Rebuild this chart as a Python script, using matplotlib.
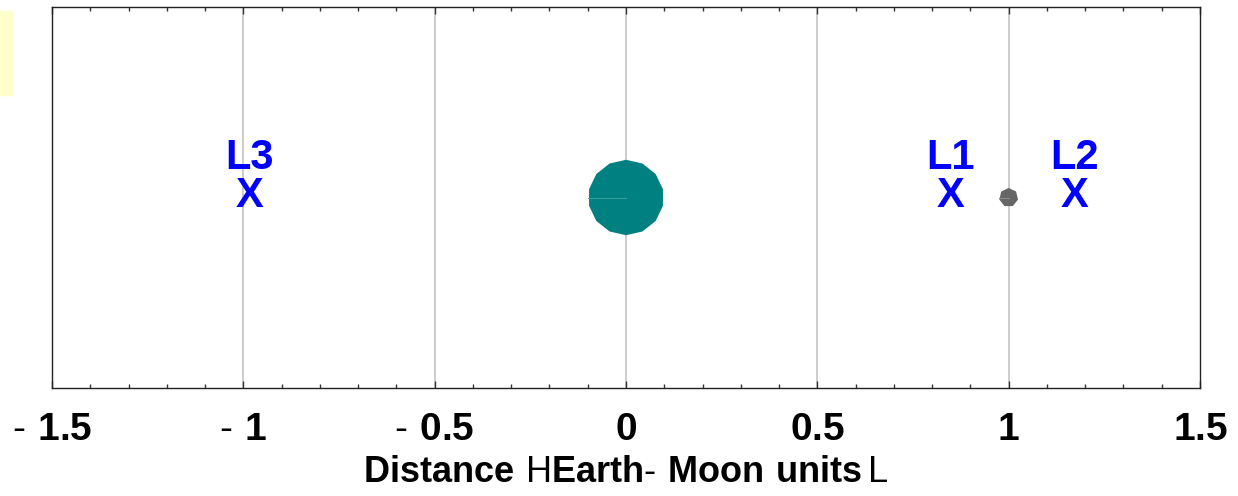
import matplotlib
matplotlib.use("Agg")
import matplotlib.pyplot as plt
from matplotlib import font_manager
from matplotlib.patches import RegularPolygon, Rectangle
from matplotlib.ticker import MultipleLocator

# data
major_ticks = [-1.5, -1.0, -0.5, 0.0, 0.5, 1.0, 1.5]
tick_values = ["1.5", "1", "0.5", "0", "0.5", "1", "1.5"]
tick_negative = [True, True, True, False, False, False, False]
grid_x = [-1.0, -0.5, 0.0, 0.5, 1.0]

point_names = ["L3", "L1", "L2"]
point_x = [-0.984, 0.848, 1.173]

body_names = ["Earth", "Moon"]
body_x = [0.0, 1.0]
body_radius = [0.099, 0.025]
body_colors = ["#008080", "#666666"]

installed = {f.name for f in font_manager.fontManager.ttflist}
narrow = "Liberation Sans Narrow" in installed
label_font = "Liberation Sans Narrow" if narrow else "Liberation Sans"
tick_size = 31 if narrow else 28
xlabel_size = 30 if narrow else 26

plt.rcParams["font.family"] = ["Liberation Sans", "DejaVu Sans"]
plt.rcParams["mathtext.fontset"] = "custom"
plt.rcParams["mathtext.rm"] = label_font
plt.rcParams["mathtext.bf"] = label_font + ":bold"

fig = plt.figure(figsize=(12.38, 4.96), dpi=100)
ax = fig.add_axes([52 / 1238, 108 / 496, 1148 / 1238, 381 / 496])

# the little yellow strip at the left edge
fig.patches.append(Rectangle((0, 1 - 95 / 496), 12 / 1238, 84 / 496,
                             transform=fig.transFigure, color="#ffffcc",
                             zorder=0))

for gx in grid_x:
    ax.axvline(gx, color="#c8c8c8", lw=1.3, zorder=0)

for name, x, r, c in zip(body_names, body_x, body_radius, body_colors):
    ax.add_patch(RegularPolygon((x, 0), numVertices=14 if r > 0.05 else 7,
                                radius=r, color=c, lw=0, zorder=2))
    ax.plot([x - r, x], [0, 0], color="#3a9e9e" if r > 0.05 else "#8a8a8a",
            lw=0.8, zorder=3)

for name, x in zip(point_names, point_x):
    ax.text(x, 0.103, name, ha="center", va="center", color="blue",
            fontsize=30, fontweight="bold", zorder=4)
    ax.text(x, 0.004, "X", ha="center", va="center", color="blue",
            fontsize=30, fontweight="bold", zorder=4)

labels = []
for value, neg in zip(tick_values, tick_negative):
    if neg:
        labels.append(r"$\text{-}\ \mathbf{" + value + "}$")
    else:
        labels.append(r"$\mathbf{" + value + "}$")

ax.set_xlim(-1.5, 1.5)
ax.set_ylim(-0.5, 0.5)
ax.set_yticks([])
ax.set_xticks(major_ticks, labels, fontsize=tick_size)
ax.xaxis.set_minor_locator(MultipleLocator(0.1))
ax.tick_params(axis="x", which="both", direction="in", top=True,
               color="#333333", width=1)
ax.tick_params(axis="x", which="major", length=5, pad=17)
ax.tick_params(axis="x", which="minor", length=3)
for spine in ax.spines.values():
    spine.set_color("#222222")
    spine.set_linewidth(1)

ax.set_xlabel(r"$\mathbf{Distance}\ \mathrm{H}\mathbf{Earth}\text{-}\ "
              r"\mathbf{Moon\ units}\,\mathrm{L}$", fontsize=xlabel_size,
              labelpad=5)

fig.savefig("out.png", dpi=100, facecolor="white")
